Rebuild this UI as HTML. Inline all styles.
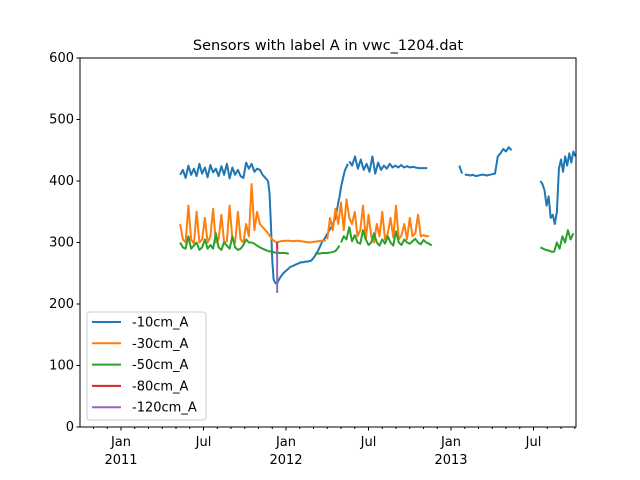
<!DOCTYPE html>
<html><head><meta charset="utf-8"><style>
body{margin:0;background:#fff;}
svg{display:block;font-family:"DejaVu Sans","Liberation Sans",sans-serif;}
</style></head><body>
<svg id="chart" width="640" height="480" xmlns="http://www.w3.org/2000/svg">
<rect width="640" height="480" fill="#fff"/>
<text x="328" y="50" text-anchor="middle" font-size="14.5">Sensors with label A in vwc_1204.dat</text>
<g id="series"></g>
<g id="axes"></g>
<g id="legend"></g>
</svg>
<script>
// months since Jan 2011 (segments: start, step, values)
const s10_t0 = [4.3, 10.7, 16.6, 24.6, 25.0, 30.5];
const s10_dt = [0.2, 0.1, 0.21, 0.2, 0.2, 0.15];
const s10_v = [
 [410,418,405,425,410,420,408,428,412,422,406,426,414,420,408,424,410,428,404,422,410,418,408,405,430,420,428,415,420,418,410,405,400],
 [400,380,330,270,240,235,233,236,240,244,247,250,252,254,256,258,260,261,262,263,264,265,266,267,268,268,268,269,269,269,270,270,272,275,278,282,285,290,295,300,303,306,310,314,318,322,325,330,335,340,352,365,375,390,400,410,418,423,428],
 [432,425,440,420,435,418,428,415,440,412,430,418,425,420,428,422,425,422,426,422,424,422,423,422,421,421,421,421],
 [425,412],
 [410,410,409,410,408,409,410,410,409,410,411,412,440,445,452,448,455,450],
 [400,395,385,360,375,340,345,330,350,420,435,415,440,425,445,430,448,440]
];
const s30_t0 = [4.3, 10.7, 15.0];
const s30_dt = [0.2, 0.3, 0.2];
const s30_v = [
 [330,305,300,360,305,298,350,300,305,340,300,310,355,300,305,345,300,302,360,305,300,350,305,300,330,310,395,320,350,330,325,320,315],
 [315,305,300,302,303,303,302,303,302,301,300,301,302,303,303],
 [305,340,320,355,330,365,320,370,340,330,350,310,320,360,305,345,310,300,330,310,350,305,315,340,308,360,305,312,330,305,340,310,315,345,310,312,310,310]
];
const s50_t0 = [4.3, 10.7, 14.1, 16.0, 30.5];
const s50_dt = [0.2, 0.3, 0.3, 0.2, 0.2];
const s50_v = [
 [300,292,290,310,290,295,300,288,292,305,290,296,290,315,292,288,300,295,290,310,292,288,290,296,305,300,300,298,295,292,290,288,286],
 [286,285,283,283,283,282],
 [282,282,283,283,284,286,295],
 [300,310,305,325,302,312,300,298,320,305,296,300,315,300,295,305,298,310,300,295,318,300,296,305,300,298,302,306,300,297,304,300,298,295],
 [292,290,288,287,285,285,300,290,310,300,320,305,315]
];
const s80_t0 = [11.35];
const s80_dt = [0.01];
const s80_v = [[300,282]];
const s120_t0 = [11.35];
const s120_dt = [0.01];
const s120_v = [[290,218]];
const seriesNames = ['-10cm_A','-30cm_A','-50cm_A','-80cm_A','-120cm_A'];
const yTicks = [0,100,200,300,400,500,600];
const xTickMonths = [0,6,12,18,24,30];
const xTickLabels = [['Jan','2011'],['Jul',''],['Jan','2012'],['Jul',''],['Jan','2013'],['Jul','']];

const colors=['#1f77b4','#ff7f0e','#2ca02c','#d62728','#9467bd'];
const L=80,R=576,T=58,B=427;
const xs=t=>121+t*13.75;
const ys=v=>B-(v/600)*(B-T);
const NS='http://www.w3.org/2000/svg';
function mk(tag,attrs,parent){const e=document.createElementNS(NS,tag);for(const k in attrs)e.setAttribute(k,attrs[k]);parent.appendChild(e);return e;}
const sg=document.getElementById('series');
const clip=mk('clipPath',{id:'cp'},sg);mk('rect',{x:L,y:T,width:R-L,height:B-T},clip);
const all=[[s10_t0,s10_dt,s10_v],[s30_t0,s30_dt,s30_v],[s50_t0,s50_dt,s50_v],[s80_t0,s80_dt,s80_v],[s120_t0,s120_dt,s120_v]];
all.forEach((s,si)=>{
 s[2].forEach((vals,k)=>{
  const pts=vals.map((v,i)=>xs(s[0][k]+i*s[1][k]).toFixed(1)+','+ys(v).toFixed(1)).join(' ');
  const p=mk('polyline',{points:pts,fill:'none',stroke:colors[si],'stroke-width':2,'stroke-linejoin':'round','clip-path':'url(#cp)'},sg);
  
  
 });
});
const ag=document.getElementById('axes');
const fr=mk('rect',{x:L,y:T,width:R-L,height:B-T,fill:'none',stroke:'#000','stroke-width':1},ag);


yTicks.forEach(v=>{
 const y=ys(v);
 mk('line',{x1:L-3.5,x2:L,y1:y,y2:y,stroke:'#000'},ag);
 const t=mk('text',{x:L-6,y:y+4,'text-anchor':'end','font-size':13},ag);t.textContent=v;
 
 
});
for(let m=-2;m<=33;m++){const x=xs(m);if(x<L||x>R)continue;mk('line',{x1:x,x2:x,y1:B,y2:B+2,stroke:'#000'},ag);}
xTickMonths.forEach((m,i)=>{
 const x=xs(m);
 mk('line',{x1:x,x2:x,y1:B,y2:B+3.5,stroke:'#000'},ag);
 const t=mk('text',{x:x,y:B+19,'text-anchor':'middle','font-size':13},ag);t.textContent=xTickLabels[i][0];
 
 
 if(xTickLabels[i][1]){const t2=mk('text',{x:x,y:B+37,'text-anchor':'middle','font-size':13},ag);t2.textContent=xTickLabels[i][1];
 
 }
});
const lg=document.getElementById('legend');
const box=mk('rect',{x:87,y:312,width:119,height:108,rx:3,fill:'#fff','fill-opacity':0.8,stroke:'#ccc'},lg);


seriesNames.forEach((n,i)=>{
 const y=322+i*21.3;
 const ln=mk('line',{x1:92,x2:121,y1:y,y2:y,stroke:colors[i],'stroke-width':2},lg);
 
 
 const t=mk('text',{x:132,y:y+4.5,'font-size':13},lg);t.textContent=n;
 
 
});
</script>
</body></html>
